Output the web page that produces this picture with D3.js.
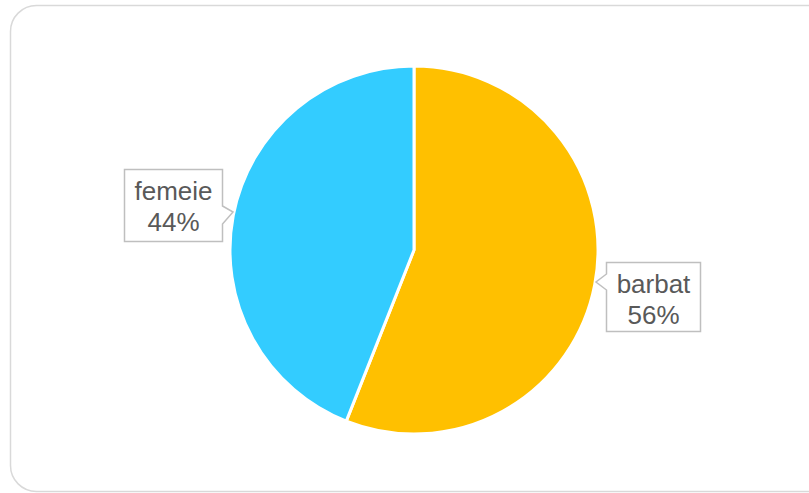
<!DOCTYPE html>
<html><head><meta charset="utf-8">
<script src="https://cdn.jsdelivr.net/npm/d3@7"></script>
<style>body{margin:0;background:#fff;}svg{display:block;font-family:"Liberation Sans",Arial,sans-serif;}</style>
</head><body>
<svg id="c" width="809" height="493"></svg>
<script>
const categories = ["barbat", "femeie"];
const values = [56, 44];
const colors = ["#FFC000", "#33CCFF"];

const svg = d3.select("#c");
svg.append("rect").attr("x", 10.5).attr("y", 5.5).attr("width", 830).attr("height", 486)
  .attr("rx", 26).attr("fill", "#fff").attr("stroke", "#d9d9d9").attr("stroke-width", 1.5);

const cx = 414, cy = 250, r = 184;
const pie = d3.pie().sort(null).value(d => d.v);
const data = categories.map((c, i) => ({c, v: values[i], col: colors[i]}));
const arcs = pie(data);
const arc = d3.arc().innerRadius(0).outerRadius(r);
const g = svg.append("g").attr("transform", `translate(${cx},${cy})`);
g.selectAll("path").data(arcs).join("path")
  .attr("d", arc).attr("fill", d => d.data.col)
  .attr("stroke", "#fff").attr("stroke-width", 3).attr("stroke-linejoin", "round");

// callout labels
const boxes = [
  {x: 606.5, y: 262.5, w: 94, h: 69, side: "left", tip: [596, 282], b1: 274, b2: 290},
  {x: 124.5, y: 169.5, w: 98, h: 72, side: "right", tip: [233, 212], b1: 206, b2: 224}
];
arcs.forEach((a, i) => {
  const b = boxes[i];
  let p;
  if (b.side === "left") {
    p = `M${b.x},${b.y} H${b.x+b.w} V${b.y+b.h} H${b.x} V${b.b2} L${b.tip[0]},${b.tip[1]} L${b.x},${b.b1} Z`;
  } else {
    p = `M${b.x},${b.y} H${b.x+b.w} V${b.b1} L${b.tip[0]},${b.tip[1]} L${b.x+b.w},${b.b2} V${b.y+b.h} H${b.x} Z`;
  }
  svg.append("path").attr("d", p).attr("fill", "#fff").attr("stroke", "#bfbfbf").attr("stroke-width", 1.5);
  const t = svg.append("text").attr("text-anchor", "middle").attr("fill", "#595959").attr("font-size", 26);
  t.append("tspan").attr("x", b.x + b.w/2).attr("y", b.y + 30).text(a.data.c);
  t.append("tspan").attr("x", b.x + b.w/2).attr("y", b.y + 61).text(Math.round(a.data.v) + "%");
});
</script>
</body></html>
